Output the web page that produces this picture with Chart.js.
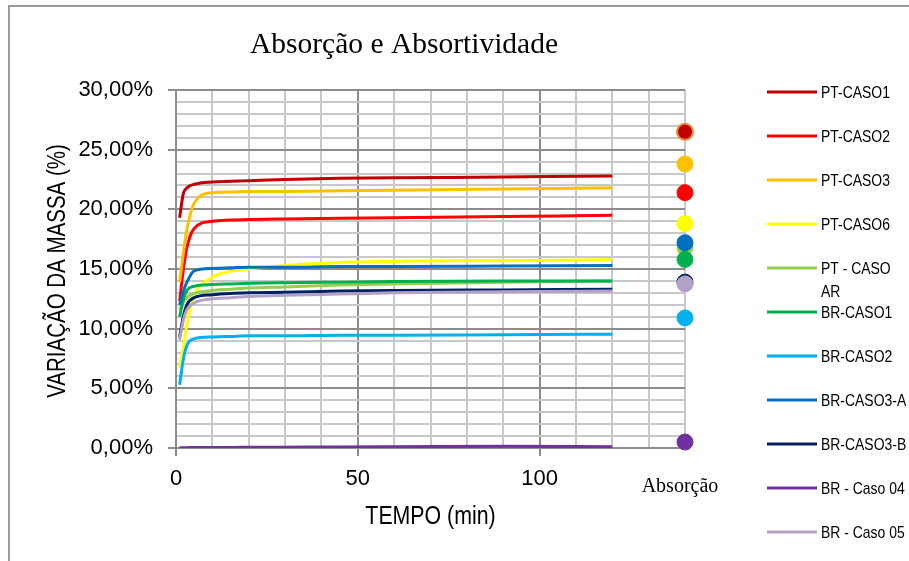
<!DOCTYPE html>
<html><head><meta charset="utf-8">
<script src="https://cdn.jsdelivr.net/npm/chart.js@4.4.1/dist/chart.umd.min.js"></script>
<style>html,body{margin:0;padding:0;background:#fff}#wrap{width:909px;height:561px;position:relative}</style>
</head><body><div id="wrap"><canvas id="c" width="909" height="561"></canvas></div>
<script>
// ---- data ----
const times = [1, 2, 3, 5, 10, 15, 20, 30, 45, 60, 90, 120];
const seriesNames = ['PT-CASO1','PT-CASO2','PT-CASO3','PT-CASO6','PT - CASO AR','BR-CASO1','BR-CASO2','BR-CASO3-A','BR-CASO3-B','BR - Caso 04','BR - Caso 05'];
const ptCaso1  = [19.3, 21.3, 21.8, 22.1, 22.3, 22.35, 22.4, 22.5, 22.6, 22.65, 22.7, 22.8];
const ptCaso2  = [12.3, 14.9, 16.8, 18.4, 19.0, 19.1, 19.15, 19.2, 19.25, 19.3, 19.4, 19.5];
const ptCaso3  = [13.9, 16.3, 18.3, 20.5, 21.4, 21.45, 21.5, 21.5, 21.55, 21.6, 21.7, 21.8];
const ptCaso6  = [6.7, 8.3, 10.4, 12.7, 14.3, 14.8, 15.0, 15.3, 15.55, 15.65, 15.7, 15.8];
const ptCasoAr = [11.6, 12.2, 12.6, 12.95, 13.2, 13.3, 13.4, 13.5, 13.65, 13.75, 13.9, 14.0];
const brCaso1  = [11.0, 12.4, 13.2, 13.55, 13.7, 13.75, 13.8, 13.85, 13.9, 13.95, 14.0, 14.0];
const brCaso2  = [5.3, 7.4, 8.6, 9.15, 9.3, 9.35, 9.4, 9.4, 9.45, 9.45, 9.5, 9.53];
const brCaso3A = [12.0, 13.1, 13.9, 14.85, 15.05, 15.1, 15.15, 15.15, 15.2, 15.2, 15.25, 15.3];
const brCaso3B = [9.3, 11.0, 12.0, 12.6, 12.85, 12.95, 13.0, 13.05, 13.15, 13.2, 13.25, 13.3];
const brCaso04 = [0.02, 0.03, 0.03, 0.04, 0.05, 0.05, 0.06, 0.07, 0.08, 0.1, 0.15, 0.1];
const brCaso05 = [9.05, 10.7, 11.6, 12.15, 12.5, 12.6, 12.7, 12.8, 12.9, 13.0, 13.1, 13.15];
const absorcao = [26.5, 21.4, 23.8, 18.8, 16.8, 15.8, 10.9, 17.2, 13.9, 0.5, 13.75];
const absorcaoX = 140;
const absorcaoLabel = 'Absorção';
const xTickLabels = [0, 50, 100];
const yTickLabels = [0, 5, 10, 15, 20, 25, 30];
const chartTitle = 'Absorção e Absortividade';
const xTitle = 'TEMPO (min)';
const yTitle = 'VARIAÇÃO DA MASSA (%)';

const seriesValues = [ptCaso1, ptCaso2, ptCaso3, ptCaso6, ptCasoAr, brCaso1, brCaso2, brCaso3A, brCaso3B, brCaso04, brCaso05];
const seriesColors = ['#C00000','#FF0000','#FFC000','#FFFF00','#92D050','#00B050','#00B0F0','#0070C0','#002060','#7030A0','#B3A2C7'];
const dotBorders = seriesColors.map((c,i)=> i===0 ? '#E8893A' : c);

const SANS = "'Liberation Sans', Arial, sans-serif";
const SERIF = "'Liberation Serif', 'Times New Roman', serif";
const MAJOR = '#8C8C8C', MINOR = '#C8C8C8';
const NARROW_SCALE = 0.82;

const datasets = seriesNames.map((name, i) => ({
  type: 'line', label: name,
  data: times.map((t, j) => ({x: t, y: seriesValues[i][j]})),
  borderColor: seriesColors[i], backgroundColor: seriesColors[i],
  borderWidth: 3, pointRadius: 0, pointHoverRadius: 0,
  cubicInterpolationMode: 'monotone', fill: false, order: 50 - i
}));
datasets.push({
  type: 'scatter', label: absorcaoLabel,
  data: absorcao.map(v => ({x: absorcaoX, y: v})),
  pointRadius: 8, pointBackgroundColor: seriesColors, pointBorderColor: dotBorders,
  pointBorderWidth: seriesColors.map((c,i)=> i===0 ? 2 : 1),
  showLine: false, clip: false, order: 0
});

function narrowText(ctx, text, x, y, size, rot) {
  ctx.save();
  ctx.translate(x, y);
  if (rot) ctx.rotate(rot);
  ctx.scale(NARROW_SCALE, 1);
  ctx.font = size + 'px ' + SANS;
  ctx.fillText(text, 0, 0);
  ctx.restore();
}

const decor = {
  id: 'decor',
  afterDraw(chart) {
    const ctx = chart.ctx;
    const area = chart.chartArea;
    ctx.save();
    // outer frame
    ctx.strokeStyle = '#9A9A9A'; ctx.lineWidth = 2;
    ctx.beginPath(); ctx.moveTo(9, 561); ctx.lineTo(9, 6); ctx.lineTo(909, 6); ctx.stroke();
    // title
    ctx.fillStyle = '#000'; ctx.font = "29.5px " + SERIF;
    ctx.textAlign = 'center'; ctx.textBaseline = 'alphabetic';
    ctx.fillText(chartTitle, 404, 53);
    // Absorção label under dots
    const xs = chart.scales.x;
    ctx.font = "20px " + SERIF;
    ctx.fillText(absorcaoLabel, xs.getPixelForValue(absorcaoX) - 5, 492);
    // axis titles
    ctx.textAlign = 'center'; ctx.textBaseline = 'middle';
    narrowText(ctx, xTitle, (area.left + area.right) / 2, 517, 26, 0);
    narrowText(ctx, yTitle, 58, (area.top + area.bottom) / 2 + 2, 25, -Math.PI / 2);
    // legend
    ctx.textAlign = 'left'; ctx.textBaseline = 'middle';
    ctx.font = "17px " + SANS;
    const lx = 767, tx = 821, maxW = 86;
    seriesNames.forEach((name, i) => {
      const y = 92 + i * 44;
      ctx.strokeStyle = seriesColors[i]; ctx.lineWidth = 3;
      ctx.beginPath(); ctx.moveTo(lx, y); ctx.lineTo(lx + 50, y); ctx.stroke();
      const words = name.split(' ');
      const lines = []; let cur = '';
      words.forEach(w => {
        const test = cur ? cur + ' ' + w : w;
        if (ctx.measureText(test).width * NARROW_SCALE > maxW && cur) { lines.push(cur); cur = w; } else cur = test;
      });
      lines.push(cur);
      ctx.fillStyle = '#000';
      lines.forEach((l, k) => narrowText(ctx, l, tx, y + 1 + k * 23, 17, 0));
    });
    ctx.restore();
  }
};

new Chart(document.getElementById('c'), {
  data: { datasets },
  options: {
    responsive: false, animation: false, devicePixelRatio: 1,
    layout: { padding: { left: 0, right: 224, top: 90, bottom: 0 } },
    plugins: { legend: { display: false }, title: { display: false }, tooltip: { enabled: false } },
    scales: {
      x: {
        type: 'linear', position: 'bottom', min: 0, max: 140,
        ticks: { stepSize: 10, autoSkip: false, maxRotation: 0, padding: 10, color: '#000',
          font: { family: SANS, size: 22 },
          callback: v => xTickLabels.includes(v) ? String(v) : '' },
        grid: { lineWidth: 2, tickLength: 8, tickWidth: 2,
          color: c => (c.tick && c.tick.value % 50 === 0) ? MAJOR : MINOR,
          tickColor: c => (c.tick && xTickLabels.includes(c.tick.value)) ? MAJOR : 'rgba(0,0,0,0)' },
        border: { color: MAJOR, width: 2 },
        title: { display: false },
        afterFit: s => { s.height = 113; }
      },
      y: {
        type: 'linear', min: 0, max: 30,
        ticks: { stepSize: 1, autoSkip: false, padding: 15, color: '#000',
          font: { family: SANS, size: 22 },
          callback: v => yTickLabels.includes(v) ? v.toFixed(2).replace('.', ',') + '%' : '' },
        grid: { lineWidth: 2, tickLength: 8, tickWidth: 2,
          color: c => (c.tick && c.tick.value % 5 === 0) ? MAJOR : MINOR,
          tickColor: c => (c.tick && yTickLabels.includes(c.tick.value)) ? MAJOR : 'rgba(0,0,0,0)' },
        border: { color: MAJOR, width: 2 },
        title: { display: false },
        afterFit: s => { s.width = 176; }
      }
    }
  },
  plugins: [decor]
});
</script></body></html>
